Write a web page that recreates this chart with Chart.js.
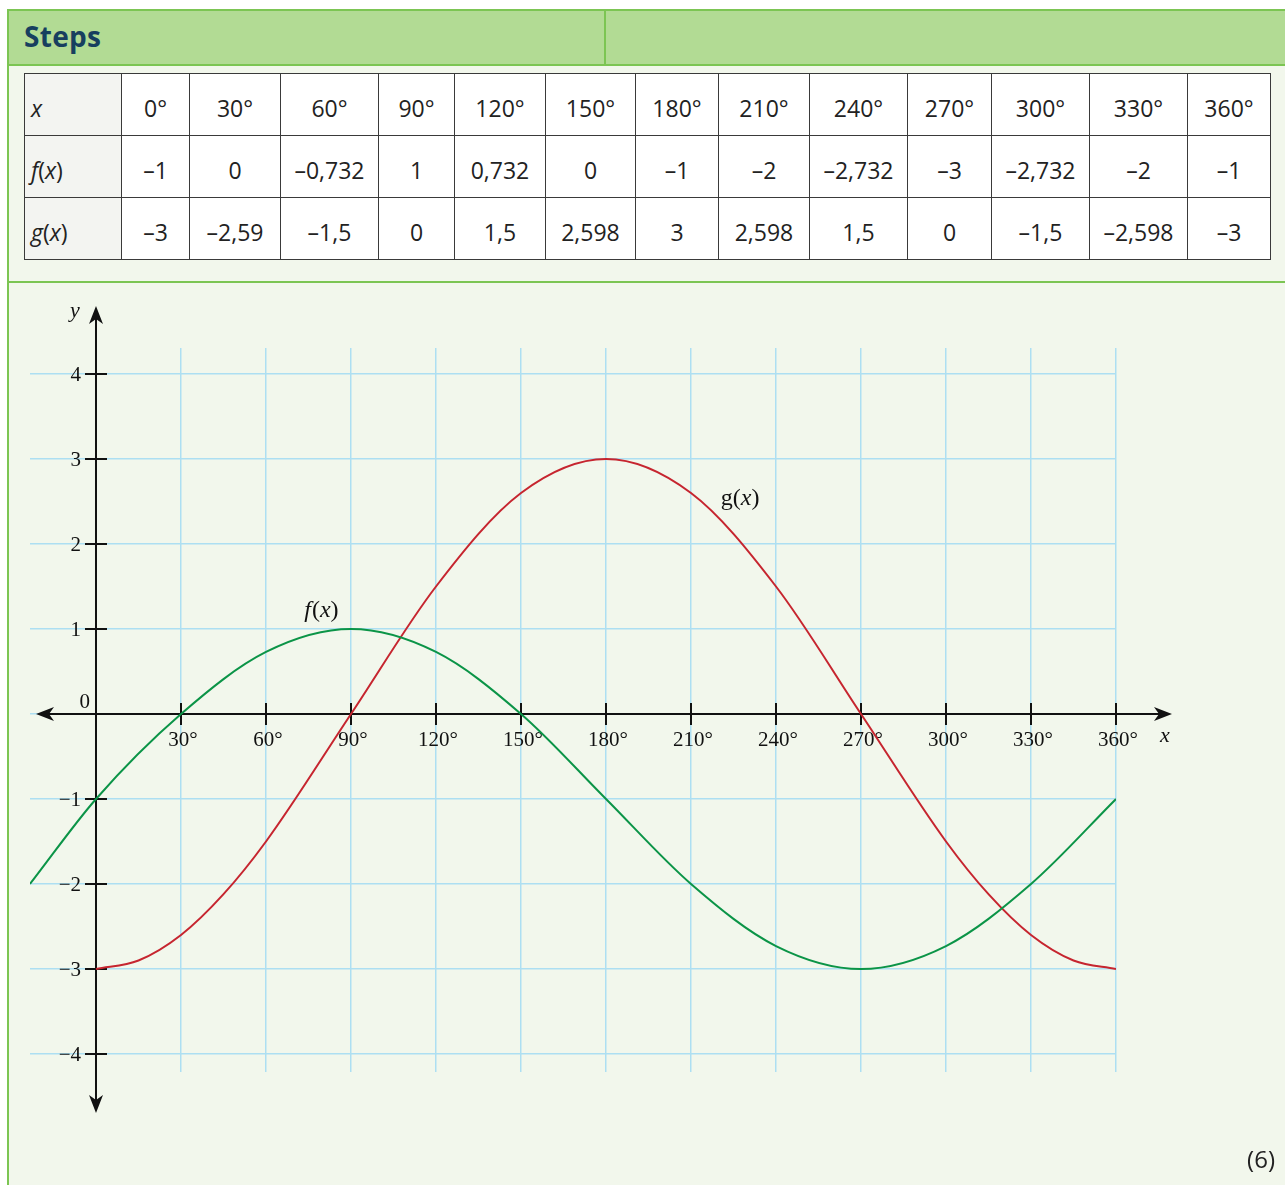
<!DOCTYPE html>
<html>
<head>
<meta charset="utf-8">
<script src="https://cdn.jsdelivr.net/npm/chart.js@4.4.1/dist/chart.umd.min.js"></script>
<style>
  html, body { margin: 0; padding: 0; width: 1285px; height: 1185px; overflow: hidden; background: #fff; }
  .panel { position: absolute; left: 7px; top: 9px; width: 1300px; height: 1200px; background: #f2f7ec; border-left: 2px solid #7cc553; border-top: 2px solid #7cc553; }
  .panel__header { position: absolute; left: 9px; top: 11px; width: 1290px; height: 53px; background: #b2db94; border-bottom: 2px solid #7cc553; }
  .panel__divider { position: absolute; left: 604px; top: 11px; width: 2px; height: 53px; background: #7cc553; }
  .panel__title { position: absolute; left: 24px; top: 17px; font: 700 28px "Open Sans", sans-serif; color: #173f5f; letter-spacing: 0.3px; }
  .panel__rule { position: absolute; left: 9px; top: 281px; width: 1290px; height: 2px; background: #7cc553; }
  .steps { position: absolute; left: 24px; top: 73px; border-collapse: collapse; table-layout: fixed; width: 1246px; }
  .steps td { border: 1.5px solid #3a3a3a; height: 62px; padding: 6px 0 0 0; box-sizing: border-box; text-align: center; font: 400 23px "Open Sans", sans-serif; color: #222; background: #fff; white-space: nowrap; }
  .steps td.head { text-align: left; padding-left: 6px; background: #f3f4f1; }
  .steps i { font-style: italic; }
  .mark { position: absolute; right: 10px; top: 1142px; font: 400 24px "Open Sans", sans-serif; color: #222; }
  #chart { position: absolute; left: 0; top: 283px; }
</style>
</head>
<body>
<div class="panel"></div>
<div class="panel__header"></div>
<div class="panel__divider"></div>
<div class="panel__title">Steps</div>
<div class="panel__rule"></div>
<table class="steps" id="steps"></table>
<canvas id="chart" width="1285" height="902"></canvas>
<div class="mark">(6)</div>

<script>
  // table text, as printed
  const columnWidths = [97, 68, 91, 98, 76, 91, 90, 83, 91, 98, 84, 98, 98, 83];
  const tableHeaders = ["0°", "30°", "60°", "90°", "120°", "150°", "180°", "210°", "240°", "270°", "300°", "330°", "360°"];
  const fTableText = ["–1", "0", "–0,732", "1", "0,732", "0", "–1", "–2", "–2,732", "–3", "–2,732", "–2", "–1"];
  const gTableText = ["–3", "–2,59", "–1,5", "0", "1,5", "2,598", "3", "2,598", "1,5", "0", "–1,5", "–2,598", "–3"];

  // graph values
  const xDegrees = [0, 30, 60, 90, 120, 150, 180, 210, 240, 270, 300, 330, 360];
  const fDegrees = [-23.3, 0, 30, 60, 90, 120, 150, 180, 210, 240, 270, 300, 330, 360];
  const fValues = [-2, -1, 0, 0.73, 1, 0.73, 0, -1, -2, -2.73, -3, -2.73, -2, -1];
  const gDegrees = [0, 15, 30, 45, 60, 90, 120, 150, 180, 210, 240, 270, 300, 315, 330, 345, 360];
  const gValues = [-3, -2.9, -2.6, -2.12, -1.5, 0, 1.5, 2.6, 3, 2.6, 1.5, 0, -1.5, -2.12, -2.6, -2.9, -3];

  const yTickValues = [-4, -3, -2, -1, 0, 1, 2, 3, 4];
  const yTickLabels = ["−4", "−3", "−2", "−1", "0", "1", "2", "3", "4"];
  const xTickLabels = ["", "30°", "60°", "90°", "120°", "150°", "180°", "210°", "240°", "270°", "300°", "330°", "360°"];

  const colors = {
    grid: "#addff2",
    axis: "#111111",
    f: "#0b9447",
    g: "#c6252f",
  };

  // build the table
  const table = document.getElementById("steps");
  let html = "<colgroup>" + columnWidths.map((w) => `<col style="width:${w}px">`).join("") + "</colgroup>";
  const row = (head, cells) =>
    `<tr><td class="head">${head}</td>` + cells.map((c) => `<td>${c}</td>`).join("") + "</tr>";
  html += row("<i>x</i>", tableHeaders);
  html += row("<i>f</i>(<i>x</i>)", fTableText);
  html += row("<i>g</i>(<i>x</i>)", gTableText);
  table.innerHTML = html;

  const serif = '"Liberation Serif", "Times New Roman", serif';

  const axesPlugin = {
    id: "axes",
    beforeDatasetsDraw(chart) {
      const { ctx, chartArea, scales } = chart;
      const xs = scales.x;
      const ys = scales.y;
      const x0 = xs.getPixelForValue(0);
      const y0 = ys.getPixelForValue(0);
      const left = chartArea.left + 6;
      const right = xs.getPixelForValue(360) + 56;
      const top = chartArea.top - 42;
      const bottom = ys.getPixelForValue(-4) + 59;

      ctx.save();
      ctx.strokeStyle = colors.axis;
      ctx.fillStyle = colors.axis;
      ctx.lineWidth = 2;

      ctx.beginPath();
      ctx.moveTo(left + 8, y0);
      ctx.lineTo(right - 8, y0);
      ctx.moveTo(x0, top + 8);
      ctx.lineTo(x0, bottom - 8);
      ctx.stroke();

      // arrow heads
      const arrow = (tx, ty, dx, dy) => {
        const len = 18;
        const half = 7;
        const px = -dy;
        const py = dx;
        ctx.beginPath();
        ctx.moveTo(tx, ty);
        ctx.lineTo(tx - dx * len + px * half, ty - dy * len + py * half);
        ctx.lineTo(tx - dx * (len - 5), ty - dy * (len - 5));
        ctx.lineTo(tx - dx * len - px * half, ty - dy * len - py * half);
        ctx.closePath();
        ctx.fill();
      };
      arrow(left, y0, -1, 0);
      arrow(right, y0, 1, 0);
      arrow(x0, top, 0, -1);
      arrow(x0, bottom, 0, 1);

      // tick marks
      ctx.beginPath();
      xDegrees.forEach((v) => {
        if (v === 0) return;
        const px = xs.getPixelForValue(v);
        ctx.moveTo(px, y0 - 11);
        ctx.lineTo(px, y0 + 11);
      });
      yTickValues.forEach((v) => {
        if (v === 0) return;
        const py = ys.getPixelForValue(v);
        ctx.moveTo(x0 - 11, py);
        ctx.lineTo(x0 + 11, py);
      });
      ctx.stroke();

      // tick labels
      ctx.font = `21px ${serif}`;
      ctx.textBaseline = "alphabetic";
      ctx.textAlign = "center";
      xDegrees.forEach((v, i) => {
        if (!xTickLabels[i]) return;
        ctx.fillText(xTickLabels[i], xs.getPixelForValue(v) + 2, y0 + 32);
      });
      ctx.textAlign = "right";
      yTickValues.forEach((v, i) => {
        if (v === 0) {
          ctx.fillText(yTickLabels[i], x0 - 6, y0 - 6);
          return;
        }
        ctx.fillText(yTickLabels[i], x0 - 15, ys.getPixelForValue(v) + 7);
      });

      // axis names and curve names
      ctx.font = `italic 22px ${serif}`;
      ctx.textAlign = "center";
      ctx.fillText("x", right - 7, y0 + 28);
      ctx.fillText("y", x0 - 21, top + 11);
      ctx.textAlign = "left";
      const label = (fn, vx, vy) => {
        let px = xs.getPixelForValue(vx);
        const py = ys.getPixelForValue(vy);
        ctx.font = fn === "f" ? `italic 24px ${serif}` : `24px ${serif}`;
        ctx.fillText(fn, px, py);
        px += ctx.measureText(fn).width + (fn === "f" ? 1 : 0);
        ctx.font = `24px ${serif}`;
        ctx.fillText("(", px, py);
        px += ctx.measureText("(").width;
        ctx.font = `italic 24px ${serif}`;
        ctx.fillText("x", px, py);
        px += ctx.measureText("x").width;
        ctx.font = `24px ${serif}`;
        ctx.fillText(")", px, py);
      };
      label("f", 73.5, 1.14);
      label("g", 220.5, 2.46);
      ctx.restore();
    },
  };

  new Chart(document.getElementById("chart"), {
    type: "line",
    data: {
      datasets: [
        {
          label: "f(x)",
          data: fDegrees.map((x, i) => ({ x, y: fValues[i] })),
          borderColor: colors.f,
          borderWidth: 2,
          pointRadius: 0,
          cubicInterpolationMode: "monotone",
          fill: false,
        },
        {
          label: "g(x)",
          data: gDegrees.map((x, i) => ({ x, y: gValues[i] })),
          borderColor: colors.g,
          borderWidth: 2,
          pointRadius: 0,
          cubicInterpolationMode: "monotone",
          fill: false,
        },
      ],
    },
    options: {
      responsive: false,
      animation: false,
      events: [],
      layout: { padding: { left: 30, right: 169, top: 65, bottom: 113 } },
      plugins: { legend: { display: false }, tooltip: { enabled: false } },
      scales: {
        x: {
          type: "linear",
          min: -23.294,
          max: 360,
          afterBuildTicks: (scale) => {
            scale.ticks = xDegrees.map((value) => ({ value }));
          },
          ticks: { display: false },
          border: { display: false },
          grid: { color: colors.grid, lineWidth: 1.5, drawTicks: false },
        },
        y: {
          type: "linear",
          min: -4.212,
          max: 4.306,
          afterBuildTicks: (scale) => {
            scale.ticks = yTickValues.map((value) => ({ value }));
          },
          ticks: { display: false },
          border: { display: false },
          grid: { color: colors.grid, lineWidth: 1.5, drawTicks: false },
        },
      },
    },
    plugins: [axesPlugin],
  });
</script>
</body>
</html>
